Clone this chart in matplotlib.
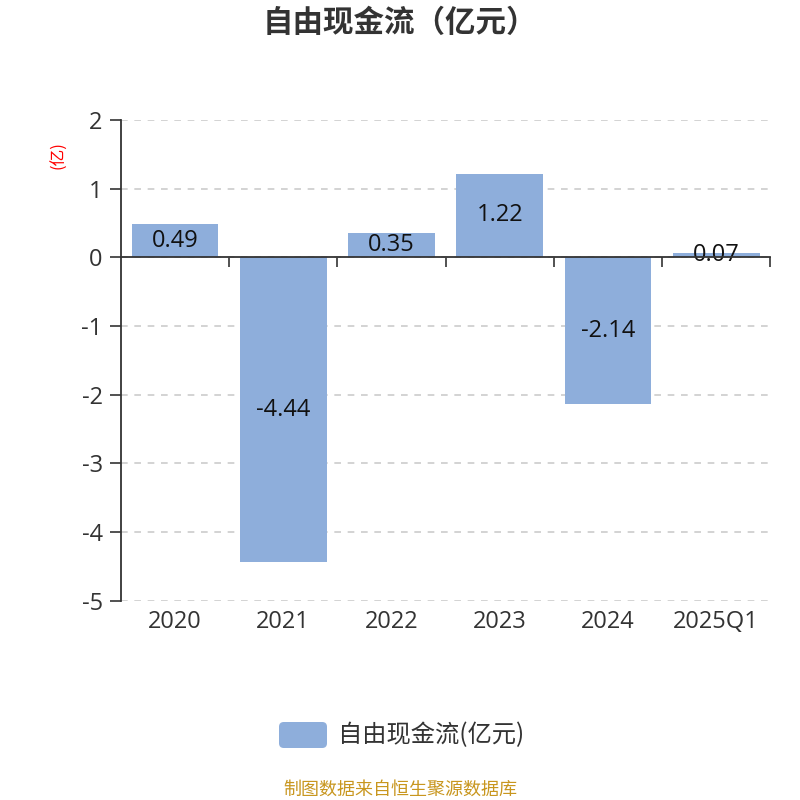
import matplotlib
matplotlib.use("Agg")
import matplotlib.pyplot as plt
import matplotlib.transforms as mtransforms
from matplotlib.patches import FancyBboxPatch

plt.rcParams['font.family'] = ['Noto Sans CJK SC', 'DejaVu Sans']
NUM_FONT = ['Open Sans', 'Noto Sans CJK SC', 'DejaVu Sans']

categories = ['2020', '2021', '2022', '2023', '2024', '2025Q1']
values = [0.49, -4.44, 0.35, 1.22, -2.14, 0.07]
labels = ['0.49', '-4.44', '0.35', '1.22', '-2.14', '0.07']
yticks = [2, 1, 0, -1, -2, -3, -4, -5]

bar_color = '#8eaedb'
text_color = '#333333'

fig = plt.figure(figsize=(8, 8), dpi=100)
ax = fig.add_axes([0.151, 0.249, 0.812, 0.601])

x = list(range(len(categories)))
ax.bar(x, values, width=0.8, color=bar_color, zorder=3)
for xi, v, lab in zip(x, values, labels):
    ax.text(xi, v / 2, lab, ha='center', va='center', fontsize=17,
            color='#111111', zorder=4, family=NUM_FONT)

ax.set_xlim(-0.5, len(categories) - 0.5)
ax.set_ylim(-5, 2)
ax.set_yticks(yticks)
ax.set_yticklabels([str(t) for t in yticks], family=NUM_FONT)
ax.tick_params(axis='y', length=8, width=1.2, colors=text_color,
               labelsize=17, pad=5)
ax.yaxis.grid(True, linestyle=(0, (4, 4)), color='#cccccc', linewidth=1.2)
for spine in ['top', 'right']:
    ax.spines[spine].set_visible(False)
ax.spines['left'].set_color(text_color)
ax.spines['left'].set_linewidth(1.3)
ax.spines['bottom'].set_position(('data', 0))
ax.spines['bottom'].set_color(text_color)
ax.spines['bottom'].set_linewidth(1.3)
ax.spines['bottom'].set_zorder(5)

# ticks between categories on the zero line
ax.set_xticks([i + 0.5 for i in x])
ax.set_xticklabels([])
ax.tick_params(axis='x', length=7, width=1.2, colors=text_color, direction='out')

# category labels below the plot area
trans = mtransforms.blended_transform_factory(ax.transData, ax.transAxes)
for xi, cat in zip(x, categories):
    ax.text(xi, -0.045, cat, transform=trans, ha='center', va='center',
            fontsize=17, color=text_color, family=NUM_FONT)

fig.text(0.5, 0.971, '自由现金流（亿元）', ha='center', va='center',
         fontsize=22, fontweight='bold', color=text_color)
fig.text(0.073, 0.806, '(亿)', ha='center', va='center', rotation=90,
         fontsize=12, color='red')

# legend
fig.patches.append(FancyBboxPatch((279 / 800, 1 - 748 / 800), 48 / 800, 26 / 800,
                                  boxstyle='round,pad=0,rounding_size=0.006',
                                  transform=fig.transFigure, facecolor=bar_color,
                                  edgecolor='none'))
fig.text(338 / 800, 1 - 735 / 800, '自由现金流(亿元)', ha='left', va='center',
         fontsize=17.5, color=text_color)

fig.text(0.5, 1 - 790 / 800, '制图数据来自恒生聚源数据库', ha='center', va='center',
         fontsize=13, color='#c8961e')

fig.savefig('out.png', dpi=100)
